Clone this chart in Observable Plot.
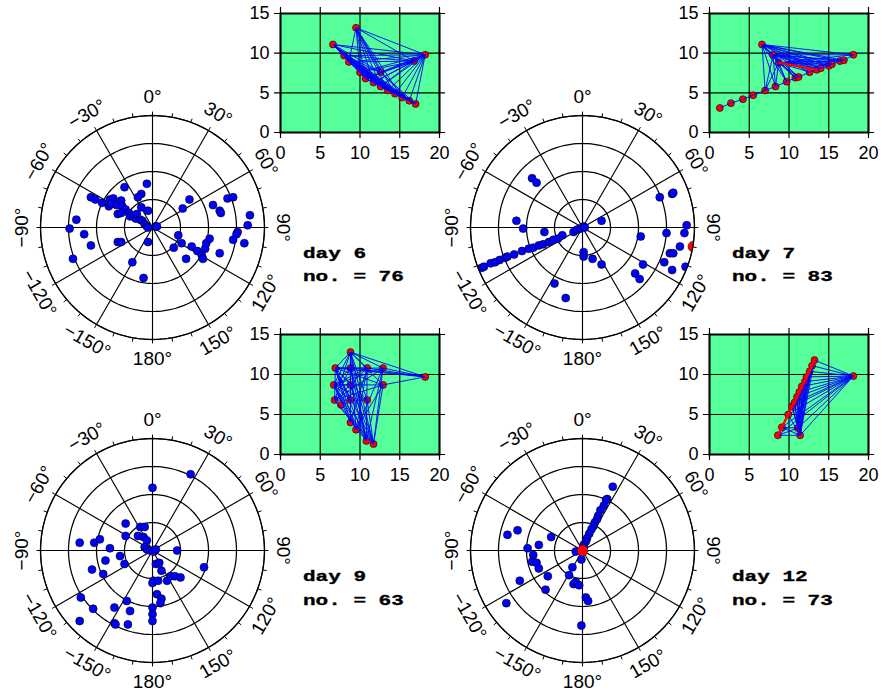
<!DOCTYPE html>
<html><head><meta charset="utf-8">
<script src="https://cdn.jsdelivr.net/npm/d3@7"></script>
<script src="https://cdn.jsdelivr.net/npm/@observablehq/plot@0.6"></script>
<style>
body{margin:0;background:#fff;}
#wrap{position:relative;width:882px;height:695px;overflow:hidden;}
.lbl{position:absolute;font-family:"Liberation Mono","Courier New",monospace;font-weight:bold;font-size:15px;line-height:23.6px;transform:scaleX(1.4);transform-origin:0 0;white-space:pre;color:#000;-webkit-text-stroke:0.35px #000;}
</style></head><body><div id="wrap"></div>
<script>
// ---------- polar axis definitions ----------
const ringRadii = [0.25, 0.5, 0.75, 1];
const spokeAngles = [0, 30, 60, 90, 120, 150, 180, 210, 240, 270, 300, 330];
const tickAngles = [0,10,20,30,40,50,60,70,80,90,100,110,120,130,140,150,160,170,180,190,200,210,220,230,240,250,260,270,280,290,300,310,320,330,340,350];
const angleLabels = ["0°","30°","60°","90°","120°","150°","180°","−150°","−120°","−90°","−60°","−30°"];

// ---------- inset axis definitions ----------
const xTicks = [0, 5, 10, 15, 20];
const yTicks = [0, 5, 10, 15];

// ---------- captions ----------
const days = ["day 6", "day 7", "day 9", "day 12"];
const counts = [76, 83, 63, 73];

// ---------- polar data (east, north), outer ring = 1 ----------
const day6Points = [[-0.55,0.27],[-0.51,0.25],[-0.45,0.22],[-0.38,0.25],[-0.35,0.26],[-0.39,0.19],[-0.37,0.21],[-0.32,0.20],[-0.28,0.24],[-0.27,0.19],[-0.24,0.16],[-0.31,0.12],[-0.28,0.13],[-0.21,0.13],[-0.20,0.10],[-0.17,0.10],[-0.15,0.08],[-0.14,0.12],[-0.11,0.07],[-0.09,0.06],[-0.07,0.03],[-0.05,0.01],[-0.04,0.00],[0.03,0.01],[-0.25,0.36],[-0.05,0.39],[-0.10,0.30],[-0.13,0.27],[-0.10,0.18],[-0.04,0.15],[-0.68,0.07],[-0.74,-0.01],[-0.61,-0.06],[-0.55,-0.16],[-0.71,-0.28],[-0.31,-0.13],[-0.28,-0.13],[-0.04,-0.13],[-0.18,-0.31],[-0.08,-0.45],[0.33,0.25],[0.27,0.17],[0.54,0.20],[0.60,0.15],[0.61,0.13],[0.67,0.26],[0.72,0.27],[0.87,0.11],[0.85,0.02],[0.76,-0.04],[0.75,-0.06],[0.72,-0.11],[0.82,-0.14],[0.60,-0.23],[0.23,-0.07],[0.26,-0.14],[0.19,-0.18],[0.30,-0.28],[0.35,-0.17],[0.40,-0.21],[0.44,-0.25],[0.45,-0.28],[0.47,-0.19],[0.48,-0.14],[0.51,-0.10],[0.04,0.01]];
const day7Points = [[-0.90,-0.36],[-0.88,-0.35],[-0.82,-0.32],[-0.78,-0.31],[-0.74,-0.29],[-0.69,-0.27],[-0.67,-0.26],[-0.61,-0.24],[-0.54,-0.21],[-0.48,-0.19],[-0.44,-0.18],[-0.39,-0.16],[-0.35,-0.15],[-0.30,-0.13],[-0.26,-0.11],[-0.22,-0.10],[-0.18,-0.07],[-0.08,-0.04],[-0.05,-0.02],[-0.02,-0.01],[0.01,0.01],[0.02,0.00],[-0.45,0.44],[-0.41,0.40],[-0.59,0.06],[-0.53,-0.01],[-0.34,-0.04],[0.17,0.06],[0.69,0.27],[0.80,0.30],[0.81,0.31],[0.01,-0.22],[0.01,-0.26],[0.09,-0.28],[0.17,-0.33],[-0.25,-0.50],[-0.15,-0.63],[0.52,-0.08],[0.75,-0.05],[0.93,0.02],[0.91,-0.05],[0.87,-0.17],[0.78,-0.23],[0.81,-0.23],[0.73,-0.31],[0.80,-0.38],[0.92,-0.35],[0.54,-0.33],[0.47,-0.41],[0.51,-0.46]];
const day7Red = [[0.99,-0.17]];
const day9Points = [[0.34,0.68],[0.00,0.56],[-0.24,0.24],[-0.11,0.21],[-0.07,0.21],[-0.13,0.13],[-0.08,0.12],[-0.05,0.09],[-0.07,0.03],[-0.05,0.01],[-0.02,0.00],[0.01,-0.01],[0.03,0.01],[-0.24,0.13],[-0.65,0.07],[-0.52,0.07],[-0.47,0.10],[-0.38,0.02],[-0.29,-0.05],[-0.42,-0.09],[-0.25,-0.12],[-0.54,-0.17],[-0.44,-0.21],[0.22,0.00],[0.46,-0.15],[0.03,-0.12],[0.06,-0.11],[0.08,-0.18],[0.01,-0.27],[0.00,-0.29],[0.05,-0.27],[0.13,-0.27],[0.16,-0.23],[0.20,-0.23],[0.25,-0.24],[0.04,-0.39],[0.08,-0.43],[0.07,-0.47],[0.00,-0.51],[0.00,-0.57],[0.00,-0.63],[-0.64,-0.42],[-0.53,-0.52],[-0.34,-0.51],[-0.23,-0.45],[-0.20,-0.54],[-0.65,-0.63],[-0.34,-0.65],[-0.33,-0.66],[-0.22,-0.66]];
const day12Points = [[0.27,0.57],[0.22,0.46],[0.21,0.45],[0.19,0.40],[0.16,0.36],[0.14,0.31],[0.13,0.28],[0.11,0.25],[0.10,0.22],[0.08,0.19],[0.06,0.15],[0.04,0.11],[0.03,0.08],[0.01,0.05],[0.01,0.03],[-0.67,0.14],[-0.58,0.18],[-0.28,0.12],[-0.39,0.05],[-0.49,0.02],[-0.44,-0.04],[-0.45,-0.10],[-0.41,-0.11],[-0.39,-0.16],[-0.31,-0.23],[-0.56,-0.27],[-0.33,-0.35],[-0.68,-0.47],[-0.09,-0.15],[-0.12,-0.22],[-0.08,-0.30],[-0.06,-0.28],[-0.03,-0.31],[-0.01,-0.08],[-0.06,-0.01],[0.03,-0.42],[0.05,-0.45],[-0.01,-0.67]];
const day12Red = [[0, 0]];

// ---------- inset data: stations (x, y) and station pairs ----------
const day6Stations = [[9.5,13.2],[6.6,11.1],[18.2,9.8],[8.0,9.7],[8.6,8.9],[10.0,7.6],[10.7,6.8],[11.7,6.3],[12.6,7.6],[12.6,5.8],[13.5,5.3],[14.4,4.9],[15.3,4.4],[16.2,4.0],[17.0,3.6],[16.8,9.0]];
const day6Pairs = [[1,2],[1,3],[1,4],[1,5],[1,6],[1,7],[1,8],[1,9],[1,10],[1,11],[1,12],[1,13],[1,14],[1,15],[2,0],[2,3],[2,4],[2,5],[2,6],[2,7],[2,8],[2,9],[2,10],[2,11],[2,12],[2,13],[2,14],[2,15],[0,4],[0,5],[0,6],[0,7],[0,8],[0,9],[0,10],[0,11],[0,12],[0,15],[3,4],[4,5],[5,6],[6,7],[7,9],[9,10],[10,11],[11,12],[12,13],[13,14],[3,15],[4,15],[5,15],[3,8],[4,8],[3,12],[4,13],[5,14],[6,15],[8,15],[3,14],[4,12],[5,12],[8,14],[3,9],[3,10],[3,11],[4,10],[4,11],[5,10],[5,11],[6,12],[8,13],[7,15],[9,15],[3,13],[5,13]];
const day6RedPairs = [];

const day7Stations = [[1.3,3.1],[2.7,3.7],[4.2,4.2],[5.5,4.7],[7.0,5.3],[8.3,5.8],[9.7,6.4],[10.8,6.9],[11.2,7.0],[12.6,7.6],[13.5,7.9],[14.0,8.1],[15.0,8.4],[15.4,8.6],[16.4,9.0],[16.9,9.1],[18.1,9.8],[6.6,11.1],[8.0,9.8],[8.7,8.8]];
const day7Pairs = [[0,1],[1,2],[2,3],[3,4],[4,5],[5,6],[6,7],[7,8],[8,9],[9,10],[10,11],[11,12],[12,13],[13,14],[14,15],[15,16],[17,4],[17,5],[17,6],[17,7],[17,8],[17,9],[17,10],[17,11],[17,12],[17,13],[17,14],[17,15],[17,16],[17,18],[17,19],[16,18],[16,19],[18,4],[18,5],[18,6],[18,7],[18,8],[18,9],[18,10],[18,11],[18,12],[18,13],[18,14],[18,15],[19,4],[19,5],[19,6],[19,7],[19,8],[19,9],[19,11],[19,12],[19,13],[19,14],[19,15],[18,19]];
const day7RedPairs = [[19,10]];

const day9Stations = [[8.8,12.8],[6.9,10.8],[8.8,10.8],[10.9,10.8],[12.9,10.8],[18.2,9.7],[6.7,8.7],[8.8,8.7],[12.9,8.7],[6.8,6.8],[7.6,6.2],[8.8,6.8],[10.9,6.8],[8.8,4.0],[9.5,3.1],[10.8,1.7],[11.7,1.3]];
const day9Pairs = [[5,0],[5,1],[5,2],[5,3],[5,4],[5,8],[0,1],[0,2],[0,3],[0,4],[0,6],[0,7],[0,8],[0,9],[0,11],[0,12],[0,13],[0,14],[0,15],[0,16],[1,2],[1,3],[1,4],[1,7],[1,8],[1,9],[1,11],[1,12],[1,13],[1,14],[1,15],[1,16],[6,2],[6,3],[6,4],[6,7],[6,8],[6,11],[6,12],[6,13],[6,14],[6,15],[6,16],[9,2],[9,3],[9,4],[9,8],[9,12],[9,15],[9,16],[3,13],[3,14],[3,15],[4,14],[4,15],[4,16],[2,15],[2,16],[7,15],[7,16],[8,14],[8,16],[12,16]];
const day9RedPairs = [];

const day12Stations = [[8.6,2.4],[9.1,3.4],[9.9,5.0],[10.4,6.0],[10.7,6.5],[11.0,7.2],[11.3,7.8],[11.6,8.5],[12.0,9.1],[12.2,9.7],[12.6,10.4],[12.9,11.1],[13.2,11.8],[18.1,9.8],[11.1,3.3],[11.4,2.4]];
const day12Pairs = [[13,0],[13,1],[13,2],[13,3],[13,4],[13,5],[13,6],[13,7],[13,8],[13,9],[13,10],[13,11],[13,12],[13,14],[13,15],[15,2],[15,3],[15,4],[15,5],[15,6],[15,7],[15,8],[15,9],[15,10],[15,11],[15,12],[14,3],[14,4],[14,5],[14,6],[14,7],[14,8],[14,9],[14,10],[14,11],[14,12],[0,14],[0,15],[1,14],[1,15]];
const day12RedPairs = [[0,1],[1,2],[2,3],[3,4],[4,5],[5,6],[6,7],[7,8],[8,9],[9,10],[10,11],[11,12]];

// ---------- drawing ----------
const RAD = Math.PI / 180;
const S = 150 / 112;           // half-extent in ring units (outer ring = 112px)
const LABEL_R = 1.17;
const GREEN = "#55ff99";
const FONT = "'Liberation Sans', Arial, Helvetica, sans-serif";
const wrap = document.getElementById("wrap");

function place(el, left, top) {
  el.style.position = "absolute";
  el.style.left = left + "px";
  el.style.top = top + "px";
  wrap.appendChild(el);
}

function labelRotate(a) {
  if (a <= 90) return a;
  if (a < 270) return a - 180;
  return a - 360;
}

function polarPlot(points, redPoints, dashed) {
  const circle = r => d3.range(0, 362, 2).map(a => ({r, a}));
  const circles = ringRadii.flatMap(circle);
  const cx = d => d.r * Math.sin(d.a * RAD), cy = d => d.r * Math.cos(d.a * RAD);
  const marks = [
    Plot.line(circles, {x: cx, y: cy, z: "r", stroke: "black", strokeWidth: 1.25}),
    Plot.link(spokeAngles, {x1: () => 0, y1: () => 0, x2: a => Math.sin(a * RAD), y2: a => Math.cos(a * RAD), stroke: "black", strokeWidth: 1.15}),
    Plot.dot(points, {x: d => d[0], y: d => d[1], r: 4, fill: "#0000ff", stroke: "black", strokeWidth: 0.6})
  ];
  if (redPoints) marks.push(Plot.dot(redPoints, {x: d => d[0], y: d => d[1], r: 5.4, fill: "red", stroke: "black", strokeWidth: dashed ? 1 : 0.5, strokeDasharray: dashed ? "1.5,1.5" : null}));
  // white mask outside the outer ring (clips marks at the ring), then ring, ticks, labels
  marks.push(
    Plot.line(circle(1 + 8 / 112), {x: cx, y: cy, stroke: "white", strokeWidth: 15}),
    Plot.line(circle(1), {x: cx, y: cy, stroke: "black", strokeWidth: 1.3}),
    Plot.link(tickAngles, {x1: a => Math.sin(a * RAD), y1: a => Math.cos(a * RAD), x2: a => 1.035 * Math.sin(a * RAD), y2: a => 1.035 * Math.cos(a * RAD), stroke: "black", strokeWidth: 1}),
    Plot.text(spokeAngles, {x: a => LABEL_R * Math.sin(a * RAD), y: a => LABEL_R * Math.cos(a * RAD), text: (a, i) => angleLabels[i], rotate: a => labelRotate(a), fontSize: 19, fill: "black"})
  );
  return Plot.plot({
    width: 300, height: 300, margin: 0,
    x: {domain: [-S, S], axis: null},
    y: {domain: [-S, S], axis: null},
    style: {background: "transparent", overflow: "visible", fontFamily: FONT, fontSize: "19px"},
    marks
  });
}

function insetPlot(stations, pairs, redPairs, plotH) {
  const link = p => ({x1: stations[p[0]][0], y1: stations[p[0]][1], x2: stations[p[1]][0], y2: stations[p[1]][1]});
  return Plot.plot({
    width: 201, height: 10 + plotH + 30,
    marginLeft: 30, marginRight: 12, marginTop: 10, marginBottom: 30,
    x: {domain: [0, 20], ticks: xTicks, tickSize: 0, tickPadding: 14, label: null},
    y: {domain: [0, 15], ticks: yTicks, tickSize: 0, tickPadding: 11, label: null},
    style: {background: "transparent", overflow: "visible", fontFamily: FONT, fontSize: "18px", color: "black"},
    marks: [
      Plot.frame({fill: GREEN, stroke: "none"}),
      Plot.ruleX(xTicks, {y1: () => -0.76, y2: () => 15.76, stroke: "black", strokeWidth: 1.2}),
      Plot.ruleY(yTicks, {x1: () => -0.76, x2: () => 20.76, stroke: "black", strokeWidth: 1.2}),
      Plot.dot(stations, {x: d => d[0], y: d => d[1], r: 3.5, fill: "red", stroke: "black", strokeWidth: 0.6}),
      Plot.link(pairs.map(link), {x1: "x1", y1: "y1", x2: "x2", y2: "y2", stroke: "#0000ff", strokeWidth: 0.9}),
      Plot.link(redPairs.map(link), {x1: "x1", y1: "y1", x2: "x2", y2: "y2", stroke: "red", strokeWidth: 2.4}),
      Plot.frame({stroke: "black", strokeWidth: 2, fill: "none"})
    ]
  });
}

// polar plots
place(polarPlot(day6Points), 2.3, 76.7);
place(polarPlot(day7Points, day7Red, false), 432.3, 76.7);
place(polarPlot(day9Points), 2.3, 400);
place(polarPlot(day12Points, day12Red, true), 432.3, 400);

// insets
place(insetPlot(day6Stations, day6Pairs, day6RedPairs, 119), 250, 2.7);
place(insetPlot(day7Stations, day7Pairs, day7RedPairs, 119), 679.3, 2.7);
place(insetPlot(day9Stations, day9Pairs, day9RedPairs, 120), 250, 324.3);
place(insetPlot(day12Stations, day12Pairs, day12RedPairs, 120), 679.3, 324.3);

// captions
const capPos = [[303, 242.7], [732.3, 242.7], [303, 566], [732.3, 566]];
days.forEach((d, i) => {
  const div = document.createElement("div");
  div.className = "lbl";
  div.textContent = d + "\nno. = " + counts[i];
  div.style.left = capPos[i][0] + "px";
  div.style.top = capPos[i][1] + "px";
  wrap.appendChild(div);
});
</script></body></html>
